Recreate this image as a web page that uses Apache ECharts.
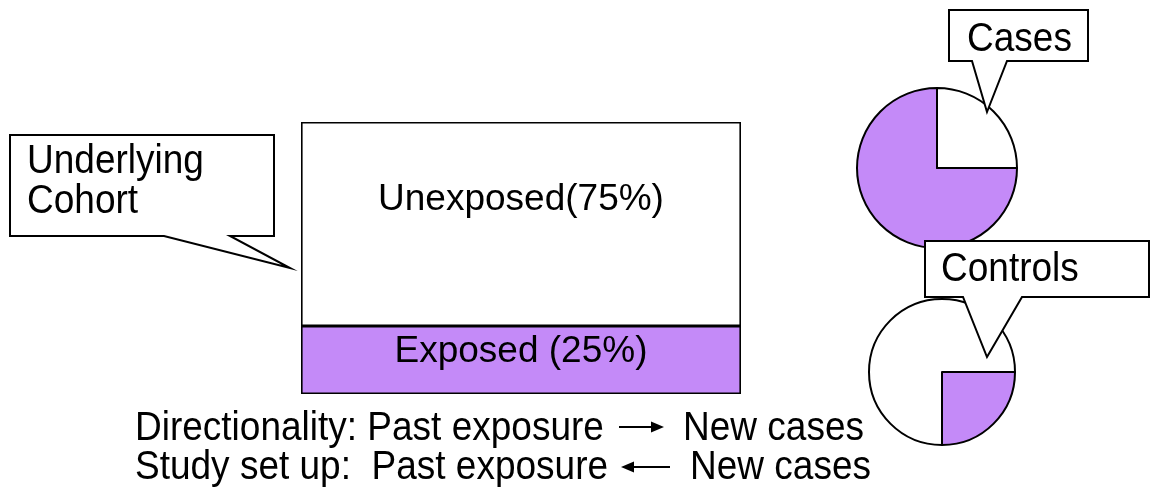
<!DOCTYPE html>
<html>
<head>
<meta charset="utf-8">
<script src="https://cdn.jsdelivr.net/npm/echarts@6/dist/echarts.min.js"></script>
<style>
  html, body { margin: 0; padding: 0; background: #fff; }
  #main { width: 1151px; height: 495px; }
</style>
</head>
<body>
<div id="main"></div>
<script>
// cohort box (stacked bar) and the two pies
var cohortNames = ['Exposed', 'Unexposed'];
var cohortShares = [25, 75];
var cohortLabels = ['Exposed (25%)', 'Unexposed(75%)'];
var pieNames = ['Exposed', 'Unexposed'];
var casesShares = [75, 25];
var controlsShares = [25, 75];

var PURPLE = '#c48af8';
var FONT = '"Liberation Sans", Arial, sans-serif';

var myChart = echarts.init(document.getElementById('main'));

function callout(points, z) {
  return {
    type: 'polygon', z: z, silent: true,
    shape: { points: points },
    style: { fill: '#fff', stroke: '#000', lineWidth: 2 }
  };
}
// the slide text is a little taller than wide, so stretch it slightly
function txt(s, x, y) {
  return {
    type: 'text', z: 120, silent: true,
    x: x, y: y, scaleY: 1.12,
    style: { text: s, x: 0, y: 0, fill: '#000', font: '37px ' + FONT, verticalAlign: 'middle' }
  };
}
function arrow(x1, x2, y) {
  // head sits at x2
  var d = x2 > x1 ? 1 : -1;
  return [
    { type: 'line', z: 120, silent: true, shape: { x1: x1, y1: y, x2: x2 - d * 8, y2: y }, style: { stroke: '#000', lineWidth: 2 } },
    { type: 'polygon', z: 120, silent: true, shape: { points: [[x2, y], [x2 - d * 13, y - 5.5], [x2 - d * 13, y + 5.5]] }, style: { fill: '#000' } }
  ];
}

var graphics = [
  callout([[10, 135], [274, 135], [274, 236], [230, 236], [290, 268], [164, 236], [10, 236]], 100),
  txt('Underlying', 27, 162),
  txt('Cohort', 27, 202),
  callout([[949, 10], [1088, 10], [1088, 61], [1007, 61], [987, 112], [972, 61], [949, 61]], 100),
  txt('Cases', 967, 40),
  callout([[925, 241], [1149, 241], [1149, 297], [1022, 297], [987, 357], [963, 297], [925, 297]], 100),
  txt('Controls', 941, 270),
  txt('Directionality: Past exposure', 135, 429),
  txt('New cases', 683, 429),
  txt('Study set up:  Past exposure', 135, 468),
  txt('New cases', 690, 468)
].concat(arrow(619, 664, 427)).concat(arrow(670, 621, 467));

var barSeries = cohortNames.map(function (name, i) {
  return {
    name: name,
    type: 'bar',
    stack: 'cohort',
    barWidth: '100%',
    silent: true,
    data: [cohortShares[i]],
    itemStyle: { color: i === 0 ? PURPLE : '#fff', borderColor: '#000', borderWidth: 1.6 },
    label: {
      show: true, position: 'inside', formatter: cohortLabels[i],
      color: '#000', fontSize: 37, fontFamily: FONT,
      offset: i === 0 ? [0, -8] : [0, -24]
    }
  };
});

function pie(center, radius, shares) {
  return {
    type: 'pie',
    center: center,
    radius: radius,
    startAngle: 0,
    clockwise: true,
    silent: true,
    label: { show: false },
    labelLine: { show: false },
    itemStyle: { borderColor: '#000', borderWidth: 2 },
    data: shares.map(function (v, i) {
      return { name: pieNames[i], value: v, itemStyle: { color: i === 0 ? PURPLE : '#fff' } };
    })
  };
}

var option = {
  animation: false,
  backgroundColor: '#fff',
  grid: { left: 301, top: 122, width: 440, height: 272 },
  xAxis: { type: 'category', data: ['Cohort'], show: false },
  yAxis: { type: 'value', min: 0, max: 100, show: false },
  series: barSeries.concat([
    pie([937, 168], 80, casesShares),
    pie([942, 372], 73, controlsShares)
  ]),
  graphic: graphics
};

myChart.setOption(option);
</script>
</body>
</html>
